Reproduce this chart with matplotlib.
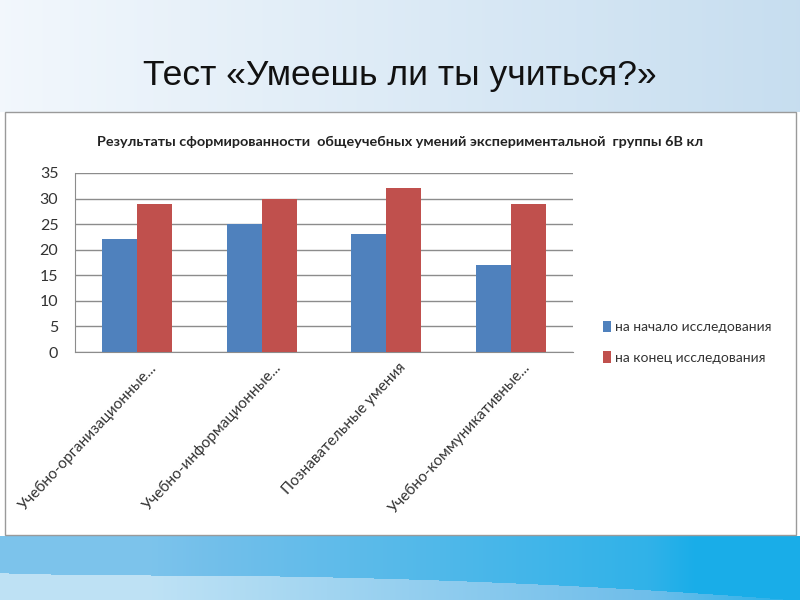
import numpy as np
import matplotlib
matplotlib.use("Agg")
import matplotlib.pyplot as plt
import matplotlib.transforms as mtransforms
from matplotlib.patches import Rectangle

slide_title = "Тест «Умеешь ли ты учиться?»"
chart_title = "Результаты сформированности  общеучебных умений экспериментальной  группы 6В кл"
categories = ["Учебно-организационные...", "Учебно-информационные...",
              "Познавательные умения", "Учебно-коммуникативные..."]
series_names = ["на начало исследования", "на конец исследования"]
start_vals = [22, 25, 23, 17]
end_vals = [29, 30, 32, 29]
y_ticks = [0, 5, 10, 15, 20, 25, 30, 35]

colors = ["#4f81bd", "#c0504d"]
narrow = ["Liberation Sans Narrow", "Lato", "DejaVu Sans"]

fig = plt.figure(figsize=(8, 6), dpi=100)
fig.patch.set_facecolor("white")

# background decoration
bg = fig.add_axes([0, 0, 1, 1])
bg.set_xlim(0, 800); bg.set_ylim(600, 0); bg.axis("off")
H, W = 600, 800
yy, xx = np.mgrid[0:H, 0:W].astype(float)
img = np.ones((H, W, 3))
t = np.clip(xx / W, 0, 1)
top = (yy < 112)
c0 = np.array([0.95, 0.97, 0.99]); c1 = np.array([0.78, 0.87, 0.94])
for k in range(3):
    img[..., k] = np.where(top, c0[k] * (1 - t) + c1[k] * t, img[..., k])
bot = yy > 535
light = np.array([0.82, 0.92, 0.97]); mid = np.array([0.45, 0.75, 0.92]); deep = np.array([0.10, 0.68, 0.91])
arc = 575 - 0.00010 * (xx - 150) ** 2 + 0.00016 * (xx - 150) ** 2 * (xx > 150)
s = np.clip((xx - 150) / 650, 0, 1)
wav = np.where(yy < arc, 0.45 + 0.55 * s, 0.1 + 0.55 * s)
wav = np.clip(wav + 0.3 * np.clip((xx - 650) / 150, 0, 1), 0, 1)
for k in range(3):
    col = np.where(wav < 0.5, light[k] + (mid[k] - light[k]) * wav * 2,
                   mid[k] + (deep[k] - mid[k]) * (wav - 0.5) * 2)
    img[..., k] = np.where(bot, col, img[..., k])
bg.imshow(img, extent=(0, 800, 600, 0), aspect="auto", zorder=0)
bg.add_patch(Rectangle((5, 112), 791, 423, facecolor="white", edgecolor="#9a9a9a", lw=1.0, zorder=1))

fig.text(0.5, 1 - 76 / 600, slide_title, ha="center", va="center",
         fontsize=25.5, family=["Liberation Sans", "DejaVu Sans"], color="#111111")
fig.text(400 / 800, 1 - 142 / 600, chart_title, ha="center", va="center",
         fontsize=10.4, fontweight="bold", family=narrow, color="#222222")

ax = fig.add_axes([75 / 800, 1 - 352 / 600, 498 / 800, 179 / 600])
x = np.arange(len(categories))
w = 0.28
ax.bar(x - w / 2, start_vals, w, color=colors[0], label=series_names[0], zorder=3)
ax.bar(x + w / 2, end_vals, w, color=colors[1], label=series_names[1], zorder=3)
ax.set_xlim(-0.5, len(categories) - 0.5)
ax.set_ylim(0, 35)
ax.set_yticks(y_ticks)
ax.set_yticklabels([str(v) for v in y_ticks], family=narrow, fontsize=11.5, color="#333333")
ax.yaxis.grid(True, color="#8c8c8c", lw=1.0, zorder=0)
ax.set_axisbelow(True)
ax.tick_params(axis="y", length=0, pad=12)
ax.tick_params(axis="x", length=0, pad=6)
ax.set_xticks(x)
ax.set_xticklabels(categories, rotation=47, ha="right", rotation_mode="anchor",
                   family=narrow, fontsize=11, color="#333333")
shift = mtransforms.ScaledTranslation(0.12, 0, fig.dpi_scale_trans)
for lab in ax.get_xticklabels():
    lab.set_transform(lab.get_transform() + shift)
for sp in ["top", "right"]:
    ax.spines[sp].set_visible(False)
ax.spines["left"].set_color("#8c8c8c")
ax.spines["bottom"].set_color("#8c8c8c")
ax.set_facecolor("white")

leg = fig.legend(loc="upper left", bbox_to_anchor=(590 / 800, 1 - 308 / 600), frameon=False,
                 prop={"family": narrow, "size": 10}, handlelength=0.6, handleheight=0.9,
                 handletextpad=0.3, labelspacing=1.3)
for t_ in leg.get_texts():
    t_.set_color("#333333")

fig.savefig("out.png", dpi=100)
